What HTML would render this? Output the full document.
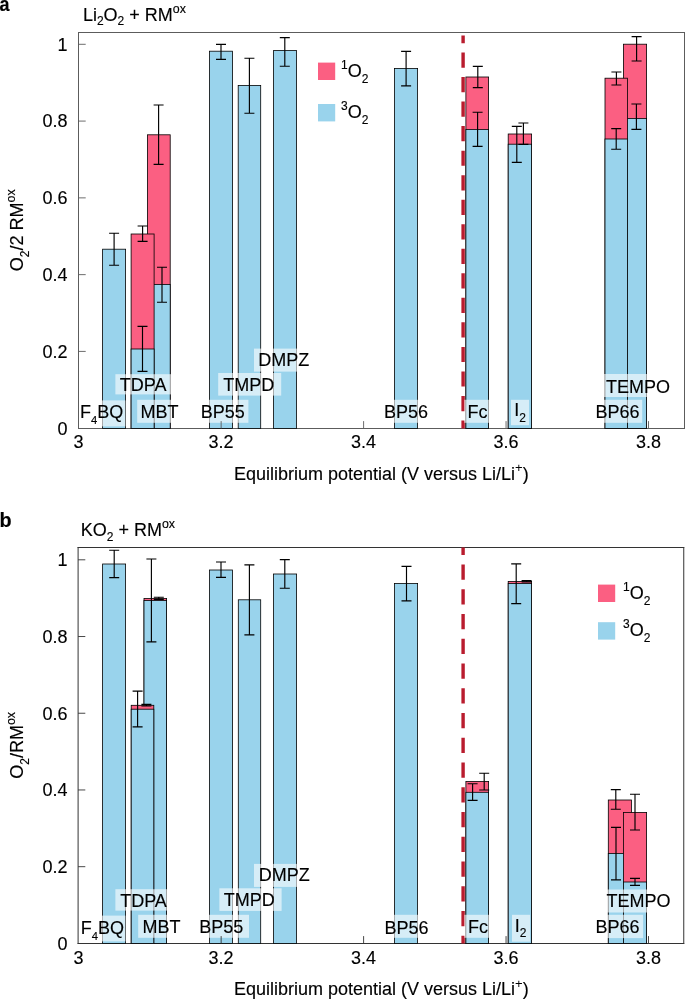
<!DOCTYPE html>
<html lang="en">
<head>
<meta charset="utf-8">
<title>Figure: O2 yield versus equilibrium potential</title>
<style>
html,body{margin:0;padding:0;background:#fff;}
body{width:685px;height:999px;overflow:hidden;}
svg{display:block;}
text{font-family:"Liberation Sans",Arial,Helvetica,sans-serif;font-size:18px;fill:#000;stroke:#000;stroke-width:0.14px;}
</style>
</head>
<body>
<svg width="685" height="999" viewBox="0 0 685 999">
<rect width="685" height="999" fill="#fff"/>
<g id="panel-a">
<path d="M78.5 32.0V429.0M684.5 32.0V429.0M78.0 32.5H685.0M78.0 428.5H685.0" fill="none" stroke="#5c5c5c" stroke-width="1"/>
<rect x="102.60" y="249.20" width="23.00" height="179.30" fill="#99d3ec" stroke="#000" stroke-width="0.8"/>
<rect x="147.40" y="134.80" width="22.80" height="293.70" fill="#fb5f82" stroke="#000" stroke-width="0.8"/><rect x="147.40" y="284.40" width="22.80" height="144.10" fill="#99d3ec" stroke="#000" stroke-width="0.8"/>
<rect x="131.10" y="234.00" width="23.00" height="194.50" fill="#fb5f82" stroke="#000" stroke-width="0.8"/><rect x="131.10" y="349.00" width="23.00" height="79.50" fill="#99d3ec" stroke="#000" stroke-width="0.8"/>
<rect x="209.40" y="51.20" width="23.20" height="377.30" fill="#99d3ec" stroke="#000" stroke-width="0.8"/>
<rect x="238.20" y="85.40" width="22.50" height="343.10" fill="#99d3ec" stroke="#000" stroke-width="0.8"/>
<rect x="273.40" y="50.60" width="23.20" height="377.90" fill="#99d3ec" stroke="#000" stroke-width="0.8"/>
<rect x="394.40" y="68.40" width="23.20" height="360.10" fill="#99d3ec" stroke="#000" stroke-width="0.8"/>
<rect x="465.90" y="77.00" width="22.70" height="351.50" fill="#fb5f82" stroke="#000" stroke-width="0.8"/><rect x="465.90" y="129.40" width="22.70" height="299.10" fill="#99d3ec" stroke="#000" stroke-width="0.8"/>
<rect x="508.20" y="134.00" width="23.40" height="294.50" fill="#fb5f82" stroke="#000" stroke-width="0.8"/><rect x="508.20" y="144.20" width="23.40" height="284.30" fill="#99d3ec" stroke="#000" stroke-width="0.8"/>
<rect x="623.40" y="44.20" width="23.20" height="384.30" fill="#fb5f82" stroke="#000" stroke-width="0.8"/><rect x="623.40" y="118.40" width="23.20" height="310.10" fill="#99d3ec" stroke="#000" stroke-width="0.8"/>
<rect x="605.00" y="78.20" width="22.60" height="350.30" fill="#fb5f82" stroke="#000" stroke-width="0.8"/><rect x="605.00" y="139.00" width="22.60" height="289.50" fill="#99d3ec" stroke="#000" stroke-width="0.8"/>
<path d="M114.10 233.20V265.20M109.10 233.20H119.10M109.10 265.20H119.10" fill="none" stroke="#000" stroke-width="1.15"/>
<path d="M162.00 267.20V302.20M157.00 267.20H167.00M157.00 302.20H167.00" fill="none" stroke="#000" stroke-width="1.15"/>
<path d="M158.60 105.00V164.40M153.60 105.00H163.60M153.60 164.40H163.60" fill="none" stroke="#000" stroke-width="1.15"/>
<path d="M142.50 326.40V371.40M137.50 326.40H147.50M137.50 371.40H147.50" fill="none" stroke="#000" stroke-width="1.15"/>
<path d="M142.60 226.00V241.40M137.60 226.00H147.60M137.60 241.40H147.60" fill="none" stroke="#000" stroke-width="1.15"/>
<path d="M221.00 44.40V59.40M216.00 44.40H226.00M216.00 59.40H226.00" fill="none" stroke="#000" stroke-width="1.15"/>
<path d="M249.40 58.20V113.20M244.40 58.20H254.40M244.40 113.20H254.40" fill="none" stroke="#000" stroke-width="1.15"/>
<path d="M284.80 37.60V66.20M279.80 37.60H289.80M279.80 66.20H289.80" fill="none" stroke="#000" stroke-width="1.15"/>
<path d="M406.10 51.40V85.80M401.10 51.40H411.10M401.10 85.80H411.10" fill="none" stroke="#000" stroke-width="1.15"/>
<path d="M477.60 112.20V146.40M472.60 112.20H482.60M472.60 146.40H482.60" fill="none" stroke="#000" stroke-width="1.15"/>
<path d="M477.80 66.40V87.60M472.80 66.40H482.80M472.80 87.60H482.80" fill="none" stroke="#000" stroke-width="1.15"/>
<path d="M516.80 126.40V162.40M511.80 126.40H521.80M511.80 162.40H521.80" fill="none" stroke="#000" stroke-width="1.15"/>
<path d="M523.40 123.00V144.40M518.40 123.00H528.40M518.40 144.40H528.40" fill="none" stroke="#000" stroke-width="1.15"/>
<path d="M636.40 104.00V129.40M631.40 104.00H641.40M631.40 129.40H641.40" fill="none" stroke="#000" stroke-width="1.15"/>
<path d="M636.60 36.60V61.00M631.60 36.60H641.60M631.60 61.00H641.60" fill="none" stroke="#000" stroke-width="1.15"/>
<path d="M616.20 128.60V149.20M611.20 128.60H621.20M611.20 149.20H621.20" fill="none" stroke="#000" stroke-width="1.15"/>
<path d="M616.40 72.00V85.00M611.40 72.00H621.40M611.40 85.00H621.40" fill="none" stroke="#000" stroke-width="1.15"/>
<line x1="463.1" y1="35.60" x2="463.1" y2="428.50" stroke="#b91c2e" stroke-width="3.4" stroke-dasharray="15.21 9.32" stroke-dashoffset="7.61"/>
<rect x="79.10" y="400.40" width="46.40" height="26.00" fill="#fff" fill-opacity="0.6"/><text x="80.00" y="418.20">F<tspan dy="5.4" font-size="11.2">4</tspan><tspan dy="-5.4">BQ</tspan></text>
<rect x="137.20" y="399.80" width="45.00" height="23.00" fill="#fff" fill-opacity="0.6"/><text x="140.50" y="418.20">MBT</text>
<rect x="115.40" y="374.20" width="58.00" height="20.20" fill="#fff" fill-opacity="0.6"/><text x="119.80" y="391.20">TDPA</text>
<rect x="196.00" y="399.80" width="52.40" height="23.00" fill="#fff" fill-opacity="0.6"/><text x="200.80" y="418.20">BP55</text>
<rect x="218.20" y="373.00" width="63.00" height="22.60" fill="#fff" fill-opacity="0.6"/><text x="223.20" y="390.50">TMPD</text>
<rect x="254.00" y="348.60" width="60.00" height="23.00" fill="#fff" fill-opacity="0.6"/><text x="258.30" y="365.60">DMPZ</text>
<rect x="379.00" y="399.80" width="52.00" height="23.00" fill="#fff" fill-opacity="0.6"/><text x="383.90" y="418.20">BP56</text>
<rect x="464.20" y="399.80" width="27.00" height="23.00" fill="#fff" fill-opacity="0.6"/><text x="467.50" y="418.20">Fc</text>
<rect x="511.00" y="399.80" width="18.00" height="25.40" fill="#fff" fill-opacity="0.6"/><text x="514.20" y="416.20">I<tspan dy="5.7" font-size="12">2</tspan></text>
<rect x="602.00" y="374.00" width="70.00" height="23.00" fill="#fff" fill-opacity="0.6"/><text x="606.00" y="392.60">TEMPO</text>
<rect x="590.20" y="399.80" width="52.00" height="23.00" fill="#fff" fill-opacity="0.6"/><text x="595.40" y="418.20">BP66</text>
<text x="67.6" y="434.60" text-anchor="end">0</text>
<text x="67.6" y="357.82" text-anchor="end">0.2</text>
<text x="67.6" y="281.04" text-anchor="end">0.4</text>
<text x="67.6" y="204.26" text-anchor="end">0.6</text>
<text x="67.6" y="127.48" text-anchor="end">0.8</text>
<text x="67.6" y="50.70" text-anchor="end">1</text>
<text x="78.60" y="447.80" text-anchor="middle">3</text>
<text x="221.05" y="447.80" text-anchor="middle">3.2</text>
<text x="363.50" y="447.80" text-anchor="middle">3.4</text>
<text x="505.95" y="447.80" text-anchor="middle">3.6</text>
<text x="648.40" y="447.80" text-anchor="middle">3.8</text>
<path d="M78.5 351.42h7.2M78.5 274.64h7.2M78.5 197.86h7.2M78.5 121.08h7.2M78.5 44.30h7.2M221.15 428.5v-7.4M363.60 428.5v-7.4M506.05 428.5v-7.4M648.50 428.5v-7.4" fill="none" stroke="#5c5c5c" stroke-width="0.9"/>
<text x="381.3" y="479.50" text-anchor="middle">Equilibrium potential (V versus Li/Li<tspan dy="-7.1" font-size="13" stroke-width="0">+</tspan><tspan dy="7.1">)</tspan></text>
<text transform="translate(23.4 230.30) rotate(-90)" text-anchor="middle">O<tspan dy="5.6" font-size="12">2</tspan><tspan dy="-5.6">/2 RM</tspan><tspan dy="-8" font-size="12.4">ox</tspan></text>
<text x="82.9" y="20.70">Li<tspan dy="4.6" font-size="12">2</tspan><tspan dy="-4.6">O</tspan><tspan dy="4.6" font-size="12">2</tspan><tspan dy="-4.6"> + RM</tspan><tspan dy="-8" font-size="12.4">ox</tspan></text>
<text x="-0.6" y="10.36" font-weight="bold" font-size="21" stroke-width="0.8" transform="scale(1 1.1)">a</text>
<rect x="318.0" y="62.6" width="17.2" height="17.4" fill="#fb5f82"/>
<rect x="318.0" y="104.0" width="17.2" height="17.4" fill="#99d3ec"/>
<text x="341.00" y="76.70"><tspan dy="-8" font-size="12">1</tspan><tspan dy="8">O</tspan><tspan dy="6.1" font-size="12">2</tspan></text>
<text x="341.00" y="118.10"><tspan dy="-8" font-size="12">3</tspan><tspan dy="8">O</tspan><tspan dy="6.1" font-size="12">2</tspan></text>
</g>
<g id="panel-b">
<path d="M78.1 547.0V944.0M683.75 547.0V944.0M77.6 547.5H684.25M77.6 943.5H684.25" fill="none" stroke="#333" stroke-width="1"/>
<rect x="102.60" y="564.00" width="23.00" height="379.50" fill="#99d3ec" stroke="#000" stroke-width="0.8"/>
<rect x="144.00" y="598.50" width="22.60" height="345.00" fill="#fb5f82" stroke="#000" stroke-width="0.8"/><rect x="144.00" y="600.50" width="22.60" height="343.00" fill="#99d3ec" stroke="#000" stroke-width="0.8"/>
<rect x="131.20" y="705.30" width="22.60" height="238.20" fill="#fb5f82" stroke="#000" stroke-width="0.8"/><rect x="131.20" y="709.20" width="22.60" height="234.30" fill="#99d3ec" stroke="#000" stroke-width="0.8"/>
<rect x="209.40" y="570.00" width="23.20" height="373.50" fill="#99d3ec" stroke="#000" stroke-width="0.8"/>
<rect x="238.30" y="599.80" width="22.40" height="343.70" fill="#99d3ec" stroke="#000" stroke-width="0.8"/>
<rect x="273.40" y="574.00" width="23.20" height="369.50" fill="#99d3ec" stroke="#000" stroke-width="0.8"/>
<rect x="394.50" y="583.50" width="23.10" height="360.00" fill="#99d3ec" stroke="#000" stroke-width="0.8"/>
<rect x="465.90" y="781.50" width="22.70" height="162.00" fill="#fb5f82" stroke="#000" stroke-width="0.8"/><rect x="465.90" y="792.30" width="22.70" height="151.20" fill="#99d3ec" stroke="#000" stroke-width="0.8"/>
<rect x="508.20" y="581.50" width="23.40" height="362.00" fill="#fb5f82" stroke="#000" stroke-width="0.8"/><rect x="508.20" y="583.50" width="23.40" height="360.00" fill="#99d3ec" stroke="#000" stroke-width="0.8"/>
<rect x="608.30" y="800.00" width="23.10" height="143.50" fill="#fb5f82" stroke="#000" stroke-width="0.8"/><rect x="608.30" y="853.40" width="23.10" height="90.10" fill="#99d3ec" stroke="#000" stroke-width="0.8"/>
<rect x="623.40" y="812.40" width="23.20" height="131.10" fill="#fb5f82" stroke="#000" stroke-width="0.8"/><rect x="623.40" y="882.00" width="23.20" height="61.50" fill="#99d3ec" stroke="#000" stroke-width="0.8"/>
<path d="M114.20 550.20V577.60M109.20 550.20H119.20M109.20 577.60H119.20" fill="none" stroke="#000" stroke-width="1.15"/>
<path d="M151.40 559.00V641.80M146.40 559.00H156.40M146.40 641.80H156.40" fill="none" stroke="#000" stroke-width="1.15"/>
<path d="M158.80 597.20V599.40M153.80 597.20H163.80M153.80 599.40H163.80" fill="none" stroke="#000" stroke-width="1.15"/>
<path d="M137.60 691.10V726.80M132.60 691.10H142.60M132.60 726.80H142.60" fill="none" stroke="#000" stroke-width="1.15"/>
<path d="M146.40 704.40V706.00M141.40 704.40H151.40M141.40 706.00H151.40" fill="none" stroke="#000" stroke-width="1.15"/>
<path d="M221.00 562.00V577.40M216.00 562.00H226.00M216.00 577.40H226.00" fill="none" stroke="#000" stroke-width="1.15"/>
<path d="M249.40 564.80V634.80M244.40 564.80H254.40M244.40 634.80H254.40" fill="none" stroke="#000" stroke-width="1.15"/>
<path d="M284.80 559.60V588.20M279.80 559.60H289.80M279.80 588.20H289.80" fill="none" stroke="#000" stroke-width="1.15"/>
<path d="M406.50 566.40V600.90M401.50 566.40H411.50M401.50 600.90H411.50" fill="none" stroke="#000" stroke-width="1.15"/>
<path d="M472.60 783.70V800.30M467.60 783.70H477.60M467.60 800.30H477.60" fill="none" stroke="#000" stroke-width="1.15"/>
<path d="M484.20 773.20V790.00M479.20 773.20H489.20M479.20 790.00H489.20" fill="none" stroke="#000" stroke-width="1.15"/>
<path d="M516.20 563.80V603.60M511.20 563.80H521.20M511.20 603.60H521.20" fill="none" stroke="#000" stroke-width="1.15"/>
<path d="M526.60 580.60V582.00M521.60 580.60H531.60M521.60 582.00H531.60" fill="none" stroke="#000" stroke-width="1.15"/>
<path d="M616.00 827.40V879.90M611.00 827.40H621.00M611.00 879.90H621.00" fill="none" stroke="#000" stroke-width="1.15"/>
<path d="M615.80 789.60V809.20M610.80 789.60H620.80M610.80 809.20H620.80" fill="none" stroke="#000" stroke-width="1.15"/>
<path d="M635.00 878.40V885.40M630.00 878.40H640.00M630.00 885.40H640.00" fill="none" stroke="#000" stroke-width="1.15"/>
<path d="M635.00 794.20V830.00M630.00 794.20H640.00M630.00 830.00H640.00" fill="none" stroke="#000" stroke-width="1.15"/>
<line x1="463.1" y1="547.40" x2="463.1" y2="943.50" stroke="#b91c2e" stroke-width="3.4" stroke-dasharray="15.35 9.40" stroke-dashoffset="7.67"/>
<rect x="79.10" y="915.60" width="46.40" height="25.80" fill="#fff" fill-opacity="0.6"/><text x="80.70" y="934.20">F<tspan dy="5.4" font-size="11.2">4</tspan><tspan dy="-5.4">BQ</tspan></text>
<rect x="138.20" y="914.80" width="45.00" height="23.00" fill="#fff" fill-opacity="0.6"/><text x="142.50" y="933.20">MBT</text>
<rect x="115.40" y="889.20" width="58.00" height="21.40" fill="#fff" fill-opacity="0.6"/><text x="120.20" y="906.60">TDPA</text>
<rect x="196.00" y="914.80" width="53.00" height="23.00" fill="#fff" fill-opacity="0.6"/><text x="199.30" y="932.70">BP55</text>
<rect x="219.40" y="888.30" width="62.20" height="22.60" fill="#fff" fill-opacity="0.6"/><text x="223.80" y="905.50">TMPD</text>
<rect x="254.00" y="863.90" width="60.00" height="23.00" fill="#fff" fill-opacity="0.6"/><text x="258.80" y="880.60">DMPZ</text>
<rect x="379.00" y="914.80" width="52.00" height="23.00" fill="#fff" fill-opacity="0.6"/><text x="384.60" y="933.60">BP56</text>
<rect x="464.20" y="914.80" width="27.00" height="23.00" fill="#fff" fill-opacity="0.6"/><text x="467.90" y="933.20">Fc</text>
<rect x="512.00" y="914.80" width="18.10" height="26.90" fill="#fff" fill-opacity="0.6"/><text x="514.80" y="932.10">I<tspan dy="4.8" font-size="12">2</tspan></text>
<rect x="602.00" y="889.50" width="70.00" height="23.00" fill="#fff" fill-opacity="0.6"/><text x="606.40" y="907.30">TEMPO</text>
<rect x="590.20" y="914.80" width="52.90" height="23.30" fill="#fff" fill-opacity="0.6"/><text x="595.40" y="933.20">BP66</text>
<text x="67.6" y="949.80" text-anchor="end">0</text>
<text x="67.6" y="873.08" text-anchor="end">0.2</text>
<text x="67.6" y="796.36" text-anchor="end">0.4</text>
<text x="67.6" y="719.64" text-anchor="end">0.6</text>
<text x="67.6" y="642.92" text-anchor="end">0.8</text>
<text x="67.6" y="566.20" text-anchor="end">1</text>
<text x="78.60" y="963.80" text-anchor="middle">3</text>
<text x="221.05" y="963.80" text-anchor="middle">3.2</text>
<text x="363.50" y="963.80" text-anchor="middle">3.4</text>
<text x="505.95" y="963.80" text-anchor="middle">3.6</text>
<text x="648.40" y="963.80" text-anchor="middle">3.8</text>
<path d="M78.1 866.68h7.2M78.1 789.96h7.2M78.1 713.24h7.2M78.1 636.52h7.2M78.1 559.80h7.2M221.15 943.5v-7.4M363.60 943.5v-7.4M506.05 943.5v-7.4M648.50 943.5v-7.4" fill="none" stroke="#333" stroke-width="0.9"/>
<text x="381.3" y="995.00" text-anchor="middle">Equilibrium potential (V versus Li/Li<tspan dy="-7.1" font-size="13" stroke-width="0">+</tspan><tspan dy="7.1">)</tspan></text>
<text transform="translate(23.4 745.40) rotate(-90)" text-anchor="middle">O<tspan dy="5.6" font-size="12">2</tspan><tspan dy="-5.6">/RM</tspan><tspan dy="-8" font-size="12.4">ox</tspan></text>
<text x="80.7" y="535.70">KO<tspan dy="5.6" font-size="12">2</tspan><tspan dy="-5.6"> + RM</tspan><tspan dy="-8" font-size="12.4">ox</tspan></text>
<text x="-0.55" y="487.78" font-weight="bold" font-size="21" stroke-width="0.8" transform="scale(1.1 1.08)">b</text>
<rect x="598.0" y="584.6" width="17.2" height="17.4" fill="#fb5f82"/>
<rect x="598.0" y="622.2" width="17.2" height="17.4" fill="#99d3ec"/>
<text x="623.00" y="598.70"><tspan dy="-8" font-size="12">1</tspan><tspan dy="8">O</tspan><tspan dy="6.1" font-size="12">2</tspan></text>
<text x="623.00" y="636.30"><tspan dy="-8" font-size="12">3</tspan><tspan dy="8">O</tspan><tspan dy="6.1" font-size="12">2</tspan></text>
</g>
</svg>
</body>
</html>
